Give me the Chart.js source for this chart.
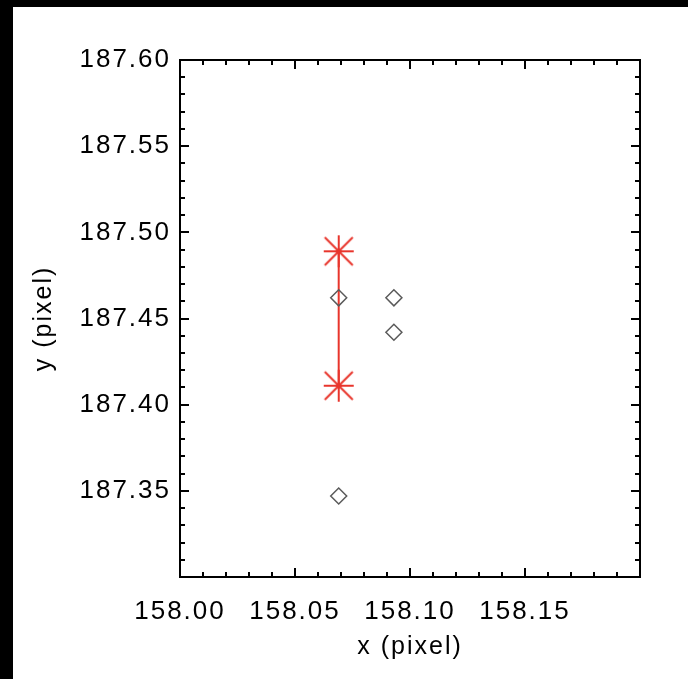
<!DOCTYPE html>
<html>
<head>
<meta charset="utf-8">
<script src="https://cdn.jsdelivr.net/npm/chart.js@4/dist/chart.umd.min.js"></script>
<style>
  html, body { margin: 0; padding: 0; background: #fff; }
  #wrap { position: relative; width: 688px; height: 679px; overflow: hidden; }
  #edgeLeft { position: absolute; left: 0; top: 0; width: 13px; height: 679px; background: #000; }
  #edgeTop { position: absolute; left: 0; top: 0; width: 688px; height: 7px; background: #000; }
  canvas { position: absolute; left: 0; top: 0; }
</style>
</head>
<body>
<div id="wrap">
  <canvas id="chart" width="688" height="679"></canvas>
  <div id="edgeLeft"></div>
  <div id="edgeTop"></div>
</div>
<script>
// centroid estimates (red asterisks, joined by a line)
var starX = [158.069, 158.069];
var starY = [187.489, 187.411];

// individual measurements (diamonds)
var diamondX = [158.069, 158.093, 158.093, 158.069];
var diamondY = [187.462, 187.462, 187.442, 187.347];

// axes
var xRange = [158.0, 158.2];
var yRange = [187.3, 187.6];
var xTickValues = [158.0, 158.05, 158.1, 158.15, 158.2];
var xTickLabels = ["158.00", "158.05", "158.10", "158.15", ""];
var yTickValues = [187.3, 187.35, 187.4, 187.45, 187.5, 187.55, 187.6];
var yTickLabels = ["", "187.35", "187.40", "187.45", "187.50", "187.55", "187.60"];

var RED = "#e8352c";
var FONT = '"Liberation Sans", Arial, Helvetica, sans-serif';

function toPoints(xs, ys) {
    return xs.map(function (x, i) { return { x: x, y: ys[i] }; });
}

// IDL style asterisk
function makeStar() {
    var c = document.createElement("canvas");
    c.width = 36;
    c.height = 36;
    var g = c.getContext("2d");
    g.strokeStyle = RED;
    g.lineWidth = 2;
    g.lineCap = "butt";
    g.beginPath();
    g.moveTo(3, 18); g.lineTo(33, 18);
    g.moveTo(18, 2); g.lineTo(18, 34);
    g.moveTo(4, 4); g.lineTo(32, 32);
    g.moveTo(32, 4); g.lineTo(4, 32);
    g.stroke();
    return c;
}

// frame plus inward major/minor ticks on all four sides
var framePlugin = {
    id: "frame",
    beforeLayout: function (chart) { chart.ctx.letterSpacing = "2px"; },
    beforeDraw: function (chart) { chart.ctx.letterSpacing = "2px"; },
    afterDatasetsDraw: function (chart) {
        var ctx = chart.ctx,
            a = chart.chartArea,
            xs = chart.scales.x,
            ys = chart.scales.y,
            i, v, p, len;
        ctx.save();
        ctx.strokeStyle = "#000";
        ctx.lineWidth = 2;
        ctx.beginPath();
        for (i = 0; i <= 20; i++) {
            v = xRange[0] + (xRange[1] - xRange[0]) * i / 20;
            p = Math.round(xs.getPixelForValue(v));
            len = i % 5 === 0 ? 9 : 5;
            ctx.moveTo(p, a.bottom); ctx.lineTo(p, a.bottom - len);
            ctx.moveTo(p, a.top); ctx.lineTo(p, a.top + len);
        }
        for (i = 0; i <= 30; i++) {
            v = yRange[0] + (yRange[1] - yRange[0]) * i / 30;
            p = Math.round(ys.getPixelForValue(v));
            len = i % 5 === 0 ? 9 : 5;
            ctx.moveTo(a.left, p); ctx.lineTo(a.left + len, p);
            ctx.moveTo(a.right, p); ctx.lineTo(a.right - len, p);
        }
        ctx.stroke();
        ctx.strokeRect(a.left, a.top, a.right - a.left, a.bottom - a.top);
        ctx.restore();
    }
};

new Chart(document.getElementById("chart"), {
    type: "scatter",
    data: {
        datasets: [
            {
                type: "line",
                data: toPoints(starX, starY),
                borderColor: RED,
                borderWidth: 2,
                pointRadius: 0,
                fill: false,
                order: 3
            },
            {
                data: toPoints(starX, starY),
                pointStyle: makeStar(),
                pointRadius: 16,
                order: 2
            },
            {
                data: toPoints(diamondX, diamondY),
                pointStyle: "rectRot",
                pointRadius: 8,
                backgroundColor: "rgba(0,0,0,0)",
                borderColor: "#5a5a5a",
                borderWidth: 1.5,
                order: 1
            }
        ]
    },
    options: {
        responsive: false,
        animation: false,
        events: [],
        layout: { padding: { top: 60, right: 48, left: 0, bottom: 0 } },
        plugins: { legend: { display: false }, tooltip: { enabled: false } },
        scales: {
            x: {
                type: "linear",
                min: xRange[0],
                max: xRange[1],
                afterBuildTicks: function (s) {
                    s.ticks = xTickValues.map(function (v) { return { value: v }; });
                },
                afterFit: function (s) { s.height = 102; },
                grid: { display: false, drawTicks: false },
                border: { display: false },
                ticks: {
                    color: "#000",
                    padding: 19,
                    maxRotation: 0,
                    autoSkip: false,
                    font: { family: FONT, size: 26 },
                    callback: function (v, i) { return xTickLabels[i]; }
                },
                title: {
                    display: true,
                    text: "x (pixel)",
                    color: "#000",
                    padding: { top: 0, bottom: 17 },
                    font: { family: FONT, size: 25 }
                }
            },
            y: {
                type: "linear",
                min: yRange[0],
                max: yRange[1],
                afterBuildTicks: function (s) {
                    s.ticks = yTickValues.map(function (v) { return { value: v }; });
                },
                afterFit: function (s) { s.width = 180; },
                grid: { display: false, drawTicks: false },
                border: { display: false },
                ticks: {
                    color: "#000",
                    padding: 9,
                    autoSkip: false,
                    font: { family: FONT, size: 26 },
                    callback: function (v, i) { return yTickLabels[i]; }
                },
                title: {
                    display: true,
                    text: "y (pixel)",
                    color: "#000",
                    padding: { top: 29, bottom: 0 },
                    font: { family: FONT, size: 25 }
                }
            }
        }
    },
    plugins: [framePlugin]
});
</script>
</body>
</html>
